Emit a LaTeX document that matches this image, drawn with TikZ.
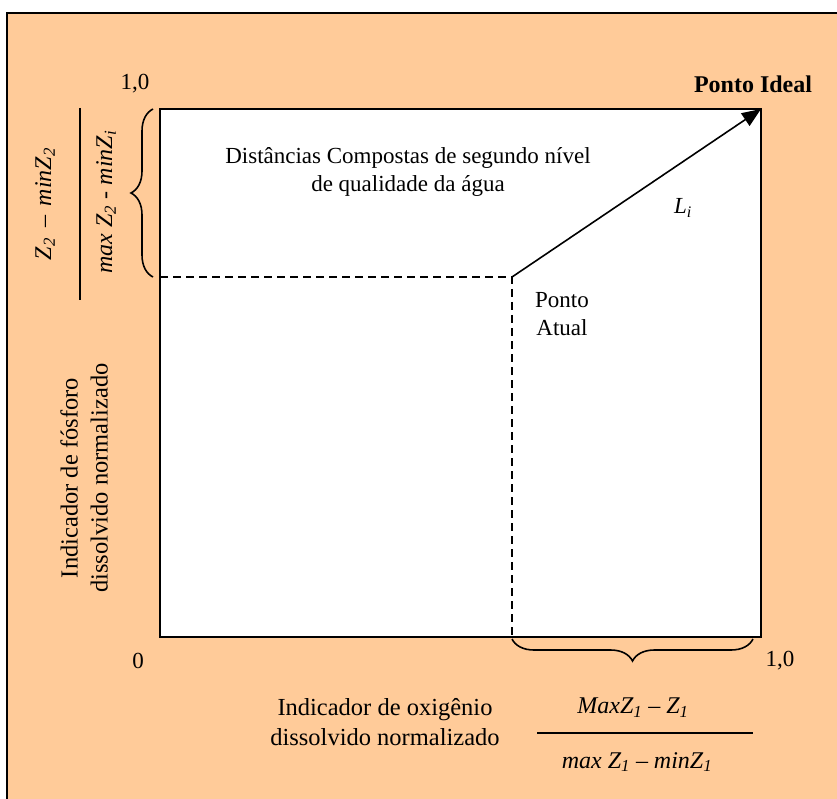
\documentclass[tikz,border=0pt]{standalone}
\usepackage{fontspec}
\setmainfont{Liberation Serif}
\usetikzlibrary{arrows.meta,decorations.pathreplacing}
\definecolor{panel}{HTML}{FFCB99}
\tikzset{
  lbl/.style={inner sep=0pt, align=center, font=\fontsize{23}{28}\selectfont},
  axislbl/.style={inner sep=0pt, align=center, font=\fontsize{24.5}{30}\selectfont},
  frac/.style={inner sep=0pt, font=\fontsize{24}{28}\selectfont\itshape},
  dashline/.style={line width=1.4pt, dash pattern=on 8pt off 5pt},
  bracestyle/.style={line width=1.6pt, decorate, decoration={brace, amplitude=22pt}},
}
\begin{document}
\begin{tikzpicture}[x=1pt,y=-1pt]
\useasboundingbox (0,0) rectangle (837,799);
\clip (0,0) rectangle (837,799);
% panel
\fill[white] (0,0) rectangle (837,799);
\draw[fill=panel, line width=2pt] (7,13) rectangle (850,812);
% plot area
\coordinate (O) at (160,637);
\coordinate (I) at (761,109);
\coordinate (A) at (512,277);
\coordinate (Ly) at (160,277);
\coordinate (Lx) at (512,637);
\draw[fill=white, line width=1.5pt] (O) rectangle (I);
\draw[dashline] (Ly) -- (A) -- (Lx);
\draw[line width=1.6pt, -{Triangle[length=19pt, width=15pt]}] (A) -- (I);
% braces
\coordinate (b1) at (153,277);
\coordinate (b2) at (153,109);
\coordinate (b3) at (753,639);
\coordinate (b4) at (512,639);
\draw[bracestyle] (b1) -- (b2);
\draw[bracestyle] (b3) -- (b4);
% labels
\node[lbl] (ytop) at (135,84) {1,0};
\node[lbl] (zero) at (138,661) {0};
\node[lbl] (xend) at (780,661) {1,0};
\node[lbl, font=\fontsize{24}{28}\selectfont\bfseries] (ideal) at (753,84) {Ponto Ideal};
\node[lbl, font=\fontsize{23}{28}\selectfont\itshape] (Li) at (683,208) {L\textsubscript{i}};
\node[lbl] (title) at (408,172) {Distâncias Compostas de segundo nível\\de qualidade da água};
\node[lbl] (atual) at (562,314) {Ponto\\Atual};
\node[axislbl, rotate=90] (ylab) at (84,478) {Indicador de fósforo\\dissolvido normalizado};
\node[axislbl] (xlab) at (385,722) {Indicador de oxigênio\\dissolvido normalizado};
% vertical fraction
\node[frac, rotate=90] (ynum) at (45,204) {Z\textsubscript{2} \,–\, minZ\textsubscript{2}};
\node[frac, rotate=90] (yden) at (106,202) {max Z\textsubscript{2} - minZ\textsubscript{i}};
\coordinate (yf1) at (80,108);
\coordinate (yf2) at (80,300);
\draw[line width=1.5pt] (yf1) -- (yf2);
% horizontal fraction
\node[frac] (xnum) at (633,708) {MaxZ\textsubscript{1} – Z\textsubscript{1}};
\node[frac] (xden) at (637,762) {max Z\textsubscript{1} – minZ\textsubscript{1}};
\coordinate (xf1) at (537,733);
\coordinate (xf2) at (753,733);
\draw[line width=1.5pt] (xf1) -- (xf2);
\end{tikzpicture}
\end{document}
